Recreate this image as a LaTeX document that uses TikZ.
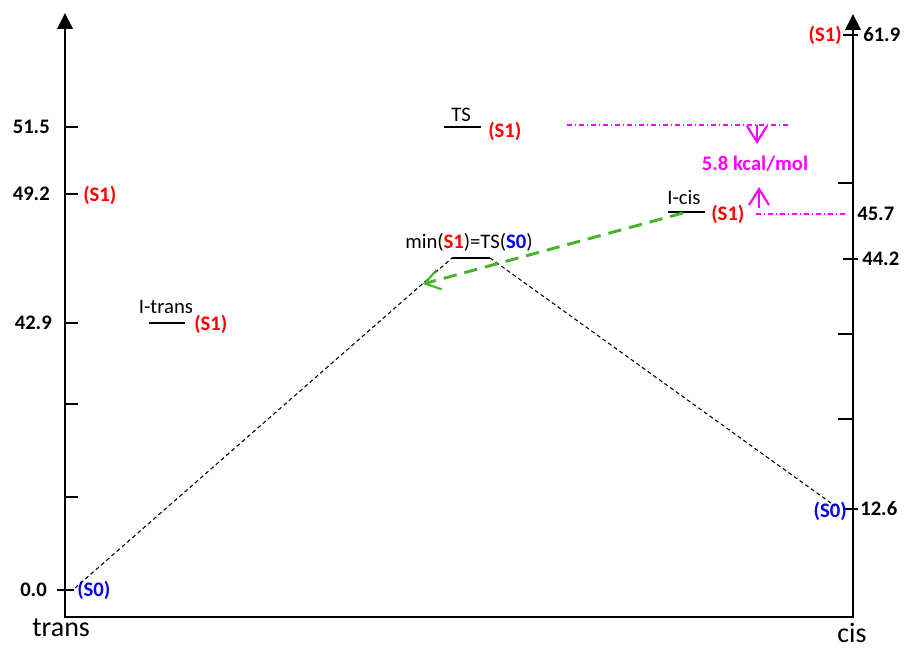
\documentclass[tikz,border=0pt]{standalone}
\usepackage{fontspec}
\setmainfont{Carlito}
\usetikzlibrary{arrows.meta}
\definecolor{sone}{RGB}{255,0,0}
\definecolor{szero}{RGB}{0,0,255}
\definecolor{barrier}{RGB}{255,0,255}
\definecolor{decay}{RGB}{70,180,40}
\begin{document}
\begin{tikzpicture}[x=0.75pt,y=0.75pt,yscale=-1,xscale=1,
  axis/.style={line width=2.1pt},
  frame/.style={line width=1.2pt},
  level/.style={line width=2pt},
  path/.style={line width=0.8pt,dash pattern=on 3pt off 2.2pt},
  value/.style={inner sep=0pt,font=\fontsize{15.5}{18}\selectfont\bfseries},
  tag/.style={inner sep=0pt,font=\fontsize{15.5}{18}\selectfont},
  sone/.style={value,text=sone},
  szero/.style={value,text=szero}]
\useasboundingbox (0,0) rectangle (906,648);

%Axes
\coordinate (ltop) at (65,13);
\coordinate (lend) at (65,553);
\coordinate (rtop) at (853,14);
\coordinate (rend) at (853,555);
\draw [axis,-{Triangle[width=11.5pt,length=12pt]}] (lend) -- (ltop);
\draw [axis,-{Triangle[width=11.5pt,length=12pt]}] (rend) -- (rtop);
\draw [frame] (lend) -- (65,617) -- (853,617) -- (rend);

%Ticks
\foreach \y in {127,194,323,404,497} \draw [axis] (65,\y) -- (78,\y);
\draw [axis] (57,590) -- (74,590);
\foreach \y in {35,259,509} \draw [axis] (843,\y) -- (858,\y);
\foreach \y in {183,334,419} \draw [axis] (838,\y) -- (853,\y);

% Text Node
\node [value,anchor=east] (v515) at (50,127) {51.5};
\node [value,anchor=east] (v492) at (50,194) {49.2};
\node [value,anchor=east] (v429) at (52,323) {42.9};
\node [value,anchor=east] (v00) at (47,590) {0.0};
\node [value,anchor=west] (v619) at (863,35) {61.9};
\node [value,anchor=west] (v457) at (857,214) {45.7};
\node [value,anchor=west] (v442) at (862,259) {44.2};
\node [value,anchor=west] (v126) at (860,509) {12.6};
\node [tag,font=\fontsize{21}{24}\selectfont,anchor=west] (trans) at (32,628) {trans};
\node [tag,font=\fontsize{21}{24}\selectfont,anchor=west] (cis) at (837,633) {cis};

%Levels
\draw [level] (149,323) coordinate (itransl) -- (185,323) coordinate (itransr);
\draw [level] (444,127) coordinate (tsl) -- (481,127) coordinate (tsr);
\draw [level] (452,258) coordinate (minl) -- (490,258) coordinate (minr);
\draw [level] (668,212) coordinate (icisl) -- (705,212) coordinate (icisr);
\coordinate (transmin) at (75,588);
\coordinate (cismin) at (835,506);

% Text Node
\node [tag,anchor=south] (itrans) at (166,314) {I-trans};
\node [tag,anchor=south] (ts) at (461,122) {TS};
\node [tag,anchor=south] (icis) at (684,205) {I-cis};
\node [tag,anchor=south] (mints) at (469,252) {min(\textcolor{sone}{\bfseries S1})=TS(\textcolor{szero}{\bfseries S0})};
\node [sone,anchor=west] (s1a) at (83,195) {(S1)};
\node [sone,anchor=west] (s1b) at (194,324) {(S1)};
\node [sone,anchor=west] (s1c) at (488,131) {(S1)};
\node [sone,anchor=west] (s1d) at (711,214) {(S1)};
\node [sone,anchor=east] (s1e) at (842,35) {(S1)};
\node [szero,anchor=west] (s0a) at (77,590) {(S0)};
\node [szero,anchor=east] (s0b) at (847,511) {(S0)};

%Paths
\draw [path] (transmin) -- (minl);
\draw [path] (minr) -- (cismin);
\coordinate (hop) at (423,284);
\draw [decay,line width=2.2pt,dash pattern=on 10pt off 6pt,-{Straight Barb[width=15pt,length=11pt,line width=1.6pt]}] (683,213) -- (hop);

%Barrier
\coordinate (bhi) at (567,125);
\coordinate (bhiend) at (789,125);
\coordinate (blo) at (756,214);
\coordinate (bloend) at (845,214);
\draw [barrier,line width=0.9pt,dash pattern=on 4pt off 2pt on 1pt off 2pt] (bhi) -- (bhiend);
\draw [barrier,line width=0.9pt,dash pattern=on 4pt off 2pt on 1pt off 2pt] (blo) -- (bloend);
\node [value,text=barrier] (gap) at (755,164) {5.8 kcal/mol};
\draw [barrier,line width=1.6pt,-{Straight Barb[width=15pt,length=12pt,line width=1.6pt]}] (757,125) -- (757,144);
\draw [barrier,line width=1.6pt,-{Straight Barb[width=15pt,length=12pt,line width=1.6pt]}] (759,208) -- (759,187);
\end{tikzpicture}
\end{document}
